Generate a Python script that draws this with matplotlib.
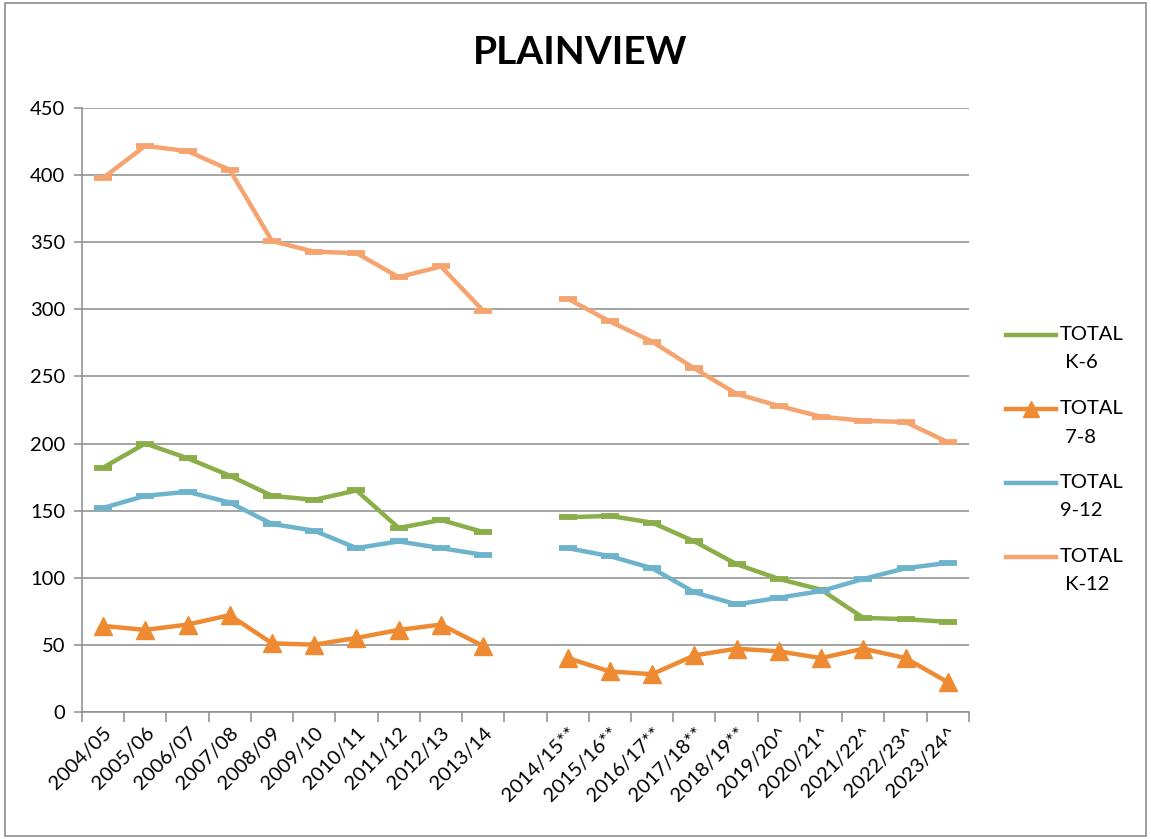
import numpy as np
import matplotlib
matplotlib.use("Agg")
import matplotlib.pyplot as plt
from matplotlib.patches import Rectangle
from matplotlib.lines import Line2D

categories = ["2004/05", "2005/06", "2006/07", "2007/08", "2008/09", "2009/10",
              "2010/11", "2011/12", "2012/13", "2013/14", "",
              "2014/15**", "2015/16**", "2016/17**", "2017/18**", "2018/19**",
              "2019/20^", "2020/21^", "2021/22^", "2022/23^", "2023/24^"]

nan = np.nan
total_k6 = [182, 200, 189, 176, 161, 158, 165, 137, 143, 134, nan,
            145, 146, 141, 127, 110, 99, 91, 70, 69, 67]
total_78 = [64, 61, 65, 72, 51, 50, 55, 61, 65, 49, nan,
            40, 30, 28, 42, 47, 45, 40, 47, 40, 22]
total_912 = [152, 161, 164, 156, 140, 135, 122, 127, 122, 117, nan,
             122, 116, 107, 89, 80, 85, 90, 99, 107, 111]
total_k12 = [398, 422, 418, 404, 351, 343, 342, 324, 332, 299, nan,
             308, 291, 276, 256, 237, 228, 220, 217, 216, 201]

labels = ["TOTAL\n K-6", "TOTAL\n 7-8", "TOTAL\n9-12", "TOTAL\n K-12"]
colors = ["#8AAE4A", "#EE8A32", "#6DB3CC", "#F5A470"]

plt.rcParams['font.family'] = ['Lato', 'DejaVu Sans']

W, H = 1151, 839
fig = plt.figure(figsize=(W / 100, H / 100), dpi=100)
fig.patches.append(Rectangle((0.004, 0.004), 0.992, 0.992, transform=fig.transFigure,
                             fill=False, edgecolor="#8C8C8C", linewidth=1.2))
ax = fig.add_axes([0.0712, 0.1517, 0.7706, 0.7193])
x = np.arange(len(categories))

series = [total_k6, total_78, total_912, total_k12]
for i, (vals, lab, col) in enumerate(zip(series, labels, colors)):
    if i == 1:
        ax.plot(x, vals, color=col, lw=3.2, marker='^', markersize=13,
                markeredgecolor=col, label=lab, zorder=3)
    else:
        ax.plot(x, vals, color=col, lw=3.2, marker='_', markersize=13,
                markeredgewidth=4.2, markeredgecolor=col, label=lab, zorder=3)

ax.set_xlim(-0.5, len(categories) - 0.5)
ax.set_ylim(0, 450)
ax.set_yticks(np.arange(0, 451, 50))
ax.yaxis.grid(True, color="#8C8C8C", linewidth=1.1)
ax.set_axisbelow(True)

ax.set_xticks(x)
ax.set_xticklabels(categories, rotation=45, ha='right', rotation_mode='anchor', fontsize=14.5)
ax.set_xticks(np.arange(-0.5, len(categories) + 0.5, 1), minor=True)
ax.tick_params(axis='x', which='major', length=0, pad=9)
ax.tick_params(axis='x', which='minor', length=7, color="#8C8C8C", width=1.1)
ax.tick_params(axis='y', length=6, color="#8C8C8C", width=1.1, labelsize=14.5, pad=6)

for s in ["top", "right"]:
    ax.spines[s].set_visible(False)
for s in ["left", "bottom"]:
    ax.spines[s].set_color("#8C8C8C")
    ax.spines[s].set_linewidth(1.1)

fig.text(0.504, 0.938, "PLAINVIEW", ha='center', va='center', fontsize=28, fontweight='bold')

# legend (handle aligned with first text line, as in the reference)
first_line_y = [335, 409, 483, 557]
line_gap = 28
for i, (lab, col, yp) in enumerate(zip(labels, colors, first_line_y)):
    yf = 1 - yp / H
    fig.add_artist(Line2D([1006 / W, 1056 / W], [yf, yf], transform=fig.transFigure,
                          color=col, lw=3.2))
    if i == 1:
        fig.add_artist(Line2D([1031 / W], [yf], transform=fig.transFigure, color=col,
                              marker='^', markersize=11, markeredgecolor=col, lw=0))
    for k, part in enumerate(lab.split("\n")):
        fig.text(1060 / W, 1 - (yp + k * line_gap) / H, part, ha='left', va='center',
                 fontsize=14.5)

fig.savefig("out.png", dpi=100)
